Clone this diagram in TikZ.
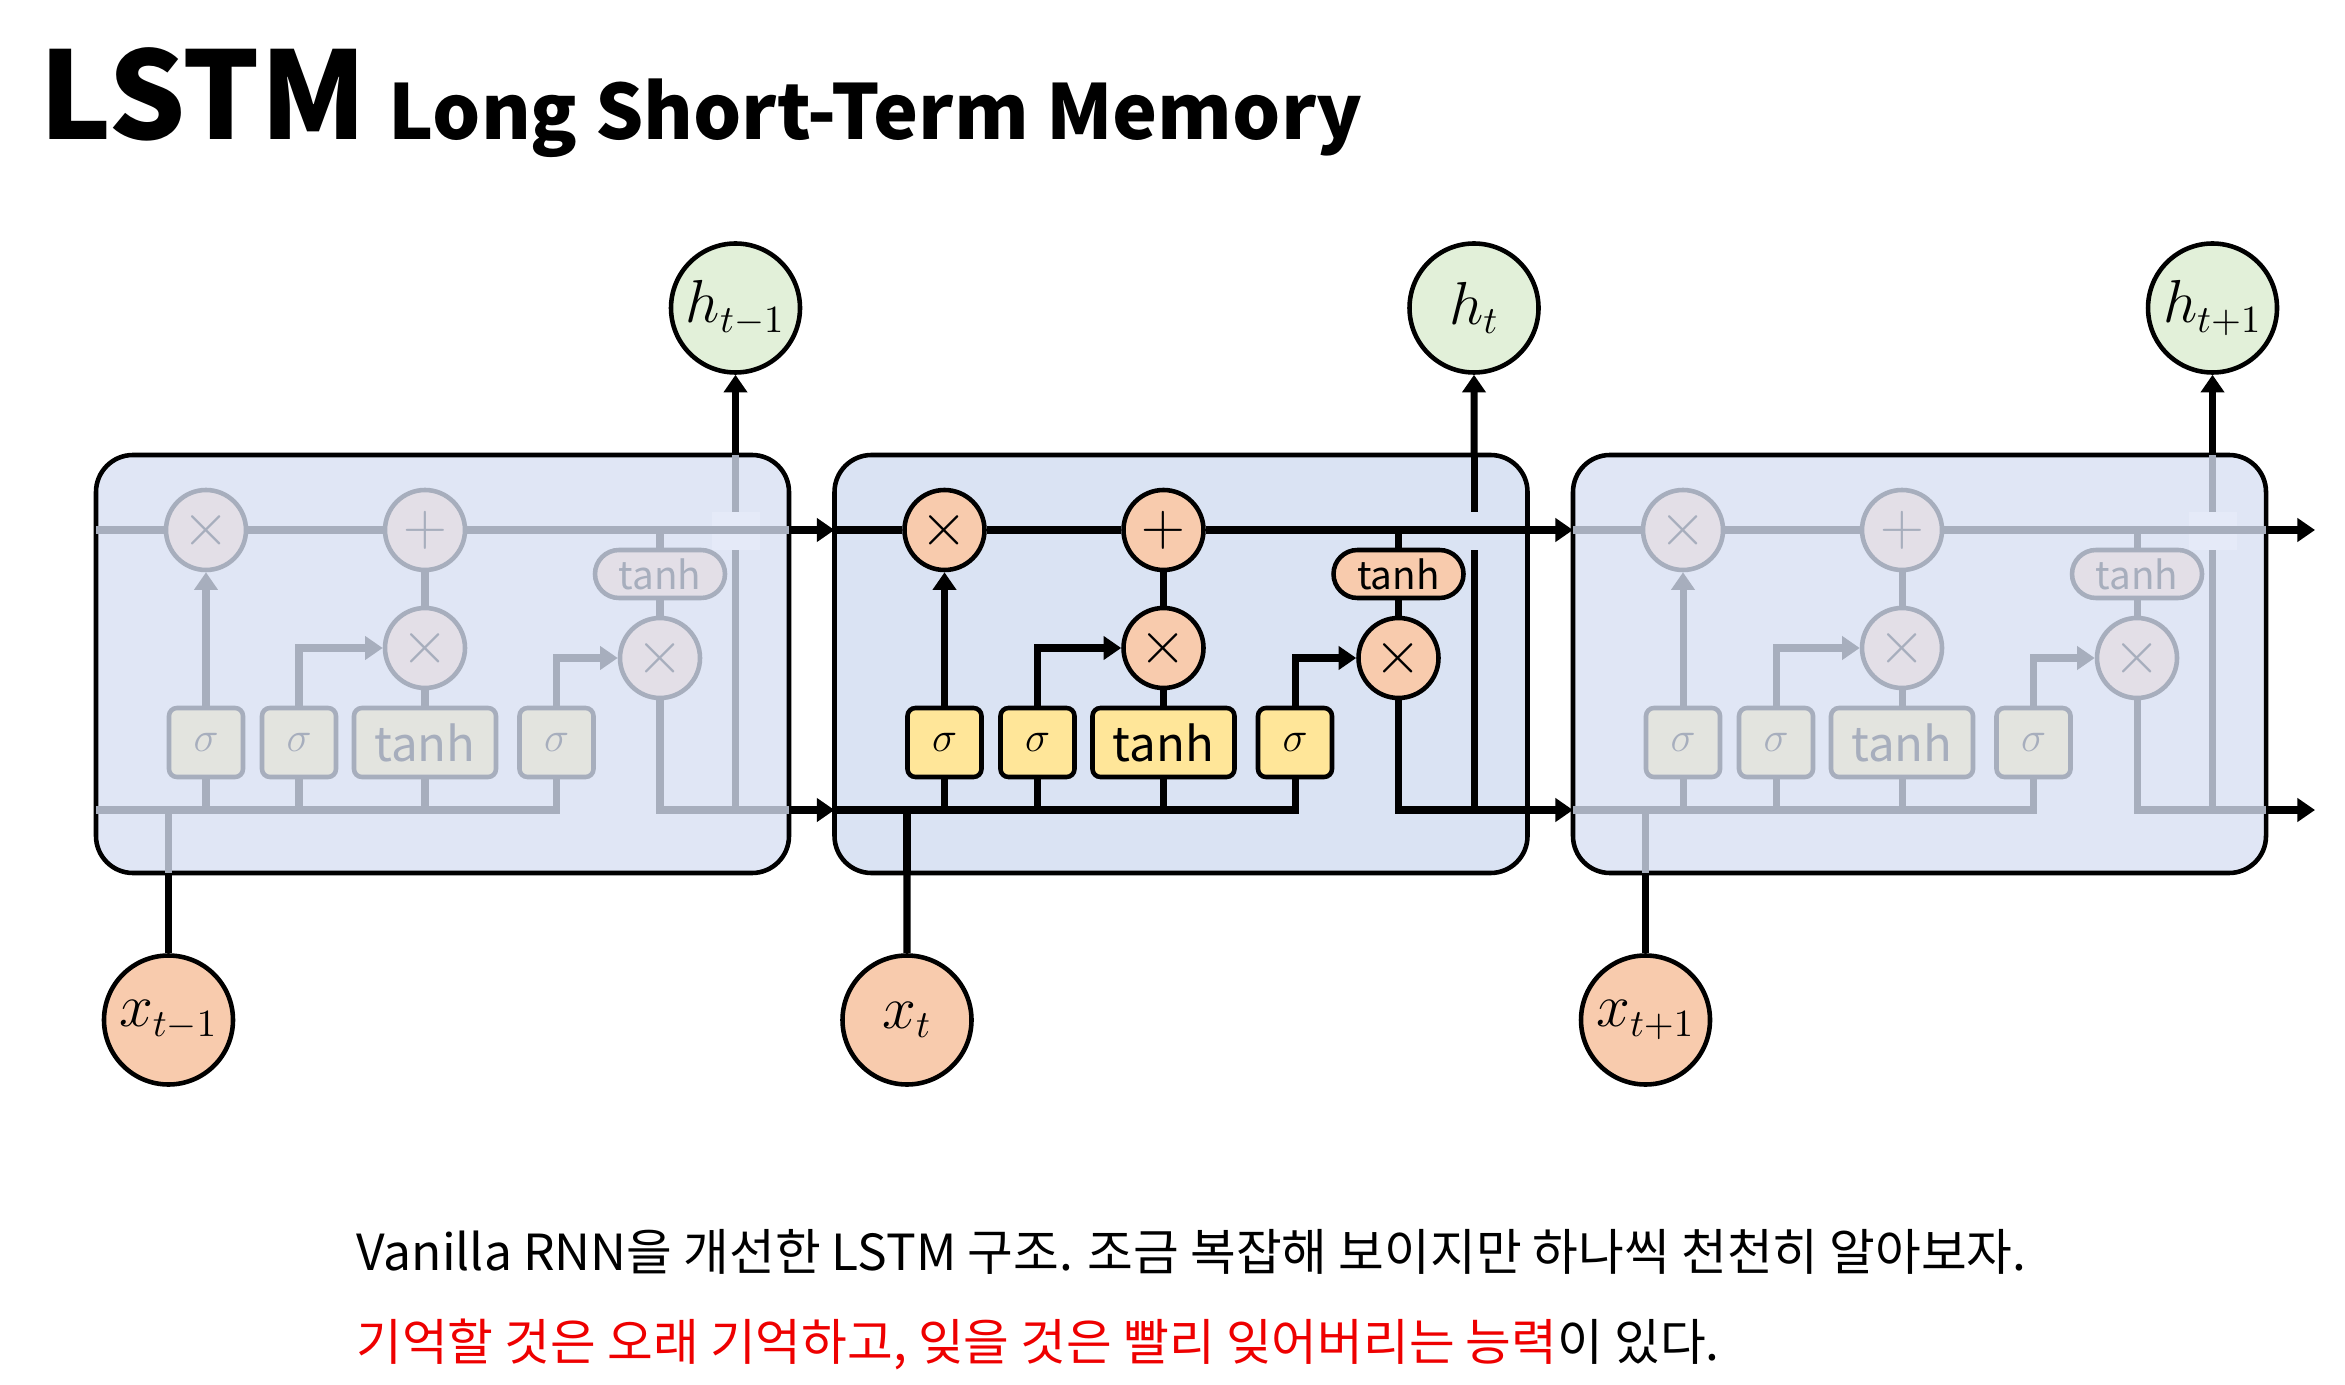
\documentclass[tikz,border=0pt]{standalone}
\usepackage{fontspec}
\setmainfont{Noto Sans CJK KR}
\usetikzlibrary{positioning}
\usetikzlibrary{calc}
\usetikzlibrary{arrows.meta}

\definecolor{peach}{RGB}{248,203,173}
\definecolor{lemon}{RGB}{255,230,153}
\definecolor{mint}{RGB}{226,240,217}
\definecolor{cellblue}{RGB}{218,227,243}
\definecolor{fadecell}{RGB}{224,230,245}
\definecolor{fadeline}{RGB}{167,174,189}
\definecolor{fadeop}{RGB}{227,223,231}
\definecolor{fadebox}{RGB}{227,228,223}
\definecolor{fadepatch}{RGB}{229,234,248}
\definecolor{hlred}{RGB}{238,0,0}

\begin{document}
\begin{tikzpicture}[x=0.1mm,y=-0.1mm,
  >={Triangle[length=5pt,width=6.5pt]},
  wire/.style={line width=2pt},
  cellbox/.style={draw=black,line width=1.3pt,rounded corners=3.7mm},
  opnode/.style={circle,draw,line width=1.3pt,minimum size=8mm,inner sep=0pt,
                 font=\fontsize{16}{16}\selectfont},
  gatebox/.style={draw,line width=1.3pt,rounded corners=0.8mm,minimum height=6.9mm,
                  minimum width=7.4mm,inner sep=0pt,font=\fontsize{12.5}{12.5}\selectfont},
  pillbox/.style={draw,line width=1.3pt,rounded corners=2.4mm,minimum height=4.8mm,
                  minimum width=13mm,inner sep=0pt,font=\fontsize{11}{11}\selectfont},
  ionode/.style={circle,draw=black,line width=1.3pt,minimum size=12.9mm,inner sep=0pt,
                 font=\fontsize{16}{16}\selectfont},
]
\useasboundingbox (0,0) rectangle (2345,1385);

%---------------------------------------
% Title
%---------------------------------------
\node[anchor=base west,font=\fontsize{34.5}{34.5}\selectfont\bfseries] (title) at (27,140) {LSTM};
\node[anchor=base west,font=\fontsize{21.6}{21.6}\selectfont\bfseries] (subtitle) at (376,140) {Long Short-Term Memory};

%---------------------------------------
% Three LSTM cells (only the middle one active)
%---------------------------------------
\foreach \i/\sh/\lc/\oc/\bc/\cc/\pc in {1/96/fadeline/fadeop/fadebox/fadecell/fadepatch,
                                         2/834.5/black/peach/lemon/cellblue/cellblue,
                                         3/1573/fadeline/fadeop/fadebox/fadecell/fadepatch}{
  \begin{scope}[shift={(\sh,455)}]
    \draw[cellbox,fill=\cc] (0,0) rectangle (693,418);
    \coordinate (cin\i) at (0,75);
    \coordinate (cout\i) at (693,75);
    \coordinate (hin\i) at (0,355);
    \coordinate (hout\i) at (693,355);
    \coordinate (top\i) at (639.5,0);
    \coordinate (bot\i) at (72.5,418);
    \coordinate (hj\i) at (639.5,355);
    \coordinate (xj\i) at (72.5,355);

    % h_t goes up, bridged under the cell state
    \draw[wire,\lc] (hj\i) -- (top\i);
    \fill[\pc] (616,57) rectangle (664,95);
    \draw[wire,\lc] (bot\i) -- (xj\i);

    % operators and gates
    \node[opnode,draw=\lc,fill=\oc,text=\lc] (f\i) at (110,75) {$\times$};
    \node[opnode,draw=\lc,fill=\oc,text=\lc] (a\i) at (329,75) {$+$};
    \node[opnode,draw=\lc,fill=\oc,text=\lc] (im\i) at (329,193) {$\times$};
    \node[opnode,draw=\lc,fill=\oc,text=\lc] (om\i) at (564,203) {$\times$};
    \node[pillbox,draw=\lc,fill=\oc,text=\lc] (ct\i) at (564,119) {tanh};
    \node[gatebox,draw=\lc,fill=\bc,text=\lc] (sf\i) at (110,287.5) {$\sigma$};
    \node[gatebox,draw=\lc,fill=\bc,text=\lc] (si\i) at (203,287.5) {$\sigma$};
    \node[gatebox,draw=\lc,fill=\bc,text=\lc,minimum width=14.2mm,
          font=\fontsize{13.5}{13.5}\selectfont] (gt\i) at (329,287.5) {tanh};
    \node[gatebox,draw=\lc,fill=\bc,text=\lc] (so\i) at (460.5,287.5) {$\sigma$};

    % cell state and hidden line
    \draw[wire,\lc] (cin\i) -- (f\i) -- (a\i) -- (cout\i);
    \draw[wire,\lc] (hin\i) -| (so\i.south);
    \foreach \g in {sf,si,gt}
      \draw[wire,\lc] (\g\i.south) -- (\g\i.south |- hin\i);

    % gate outputs
    \draw[wire,\lc,->] (sf\i) -- (f\i);
    \draw[wire,\lc,->] (si\i.north) |- (im\i.west);
    \draw[wire,\lc] (gt\i) -- (im\i) -- (a\i);
    \draw[wire,\lc,->] (so\i.north) |- (om\i.west);
    \draw[wire,\lc] (ct\i.north |- cin\i) -- (ct\i) -- (om\i);
    \draw[wire,\lc] (om\i.south) |- (hout\i);
  \end{scope}
}

%---------------------------------------
% Inputs and outputs
%---------------------------------------
\node[ionode,fill=mint] (h1) at (735.5,308) {$h_{t-1}$};
\node[ionode,fill=mint] (h2) at (1474,308) {$h_{t}$};
\node[ionode,fill=mint] (h3) at (2212.5,308) {$h_{t+1}$};
\node[ionode,fill=peach] (x1) at (168.5,1020) {$x_{t-1}$};
\node[ionode,fill=peach] (x2) at (907,1020) {$x_{t}$};
\node[ionode,fill=peach] (x3) at (1645.5,1020) {$x_{t+1}$};

\foreach \i in {1,2,3}{
  \draw[wire,->] (top\i) -- (h\i);
  \draw[wire] (x\i) -- (bot\i);
}

\coordinate (cend) at (2315,530);
\coordinate (hend) at (2315,810);
\draw[wire,->] (cout1) -- (cin2);
\draw[wire,->] (hout1) -- (hin2);
\draw[wire,->] (cout2) -- (cin3);
\draw[wire,->] (hout2) -- (hin3);
\draw[wire,->] (cout3) -- (cend);
\draw[wire,->] (hout3) -- (hend);

%---------------------------------------
% Caption
%---------------------------------------
\node[anchor=base west,font=\fontsize{14.15}{14.15}\selectfont] (cap1) at (344,1270)
  {Vanilla RNN을 개선한 LSTM 구조. 조금 복잡해 보이지만 하나씩 천천히 알아보자.};
\node[anchor=base west,font=\fontsize{14.15}{14.15}\selectfont] (cap2) at (344,1360)
  {\textcolor{hlred}{기억할 것은 오래 기억하고, 잊을 것은 빨리 잊어버리는 능력}이 있다.};

\end{tikzpicture}
\end{document}
